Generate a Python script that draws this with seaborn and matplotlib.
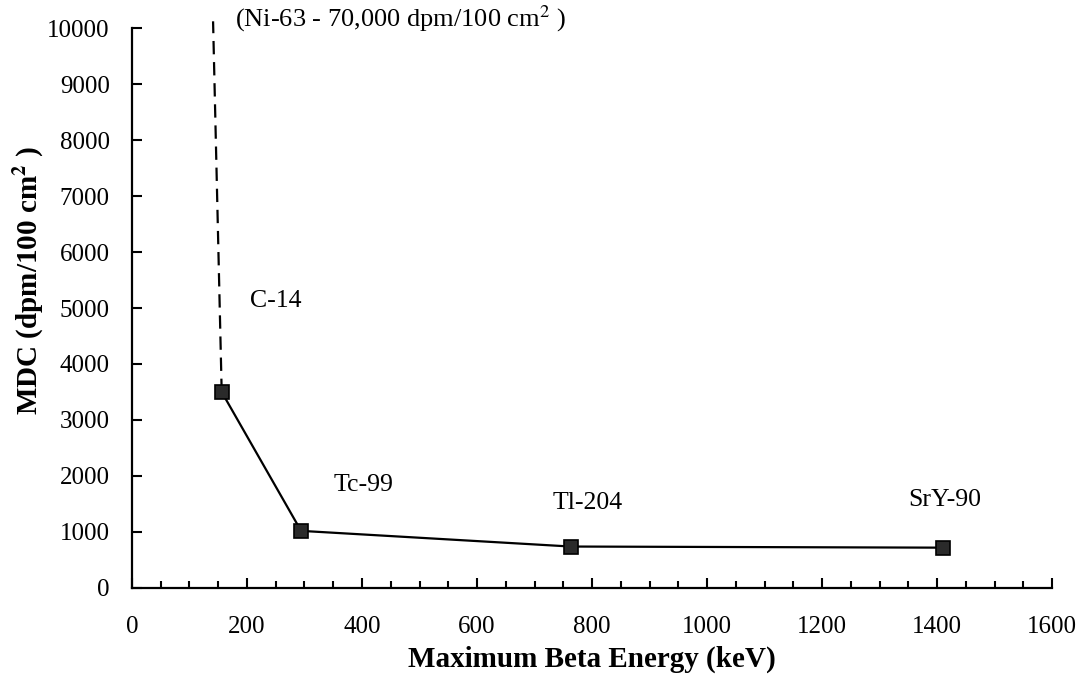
import numpy as np
import pandas as pd
import seaborn as sns
import matplotlib.pyplot as plt

# Dados
nuclideos = ['C-14', 'Tc-99', 'Tl-204', 'SrY-90']
energia_max = [156, 294, 763, 1411]      # keV
mdc = [3500, 1020, 740, 720]             # dpm/100 cm2

# Trecho tracejado até o Ni-63 (fora da escala)
ni63_energia = [156, 141]
ni63_mdc = [3500, 10120]

dados = pd.DataFrame({'Energia': energia_max, 'MDC': mdc, 'Nuclideo': nuclideos})

sns.set_style('ticks')
plt.rcParams['font.family'] = ['Liberation Serif', 'DejaVu Serif']
plt.rcParams['mathtext.fontset'] = 'stix'
plt.rcParams['text.color'] = 'black'
plt.rcParams['axes.labelcolor'] = 'black'
plt.rcParams['xtick.color'] = 'black'
plt.rcParams['ytick.color'] = 'black'
plt.rcParams['axes.edgecolor'] = 'black'

fig = plt.figure(figsize=(10.81, 6.77), dpi=100)
ax = fig.add_axes([0.1221, 0.1315, 0.8511, 0.8271])

sns.lineplot(data=dados, x='Energia', y='MDC', ax=ax, color='black', linewidth=1.6,
             marker='s', markersize=9.5, markerfacecolor='#2a2a2a',
             markeredgecolor='black', markeredgewidth=1.2, zorder=3)
ax.plot(ni63_energia, ni63_mdc, color='black', linewidth=1.6,
        linestyle=(0, (6, 3.5)), clip_on=False, zorder=2)

# Rótulos dos nuclídeos (deslocamento em relação ao ponto)
offsets = {'C-14': (50, 1630), 'Tc-99': (56, 816), 'Tl-204': (-31, 775), 'SrY-90': (-61, 850)}
for nome, x, y in zip(nuclideos, energia_max, mdc):
    dx, dy = offsets[nome]
    ax.text(x + dx, y + dy, nome, fontsize=18.5, ha='left', va='center')

ax.text(180, 10170, '(Ni-63 - 70,000 dpm/100 cm$^2$ )', fontsize=19, ha='left', va='center')

ax.set_xlim(0, 1600)
ax.set_ylim(0, 10000)
ax.set_xticks(np.arange(0, 1601, 200))
ax.set_xticks(np.arange(0, 1601, 50), minor=True)
ax.set_yticks(np.arange(0, 10001, 1000))

ax.tick_params(axis='x', which='major', direction='in', length=7, width=1.5, pad=20, labelsize=18)
ax.tick_params(axis='x', which='minor', direction='in', length=5, width=1.5)
ax.tick_params(axis='y', which='major', direction='in', length=7, width=1.5, pad=16, labelsize=18)

for lado in ['top', 'right']:
    ax.spines[lado].set_visible(False)
for lado in ['left', 'bottom']:
    ax.spines[lado].set_linewidth(1.6)

ax.set_xlabel('Maximum Beta Energy (keV)', fontsize=21, fontweight='bold', labelpad=6)
ax.set_ylabel('MDC (dpm/100 cm$^\\mathbf{2}$ )', fontsize=21, fontweight='bold')
ax.yaxis.set_label_coords(-0.094, 0.55)

fig.savefig('out.png', dpi=100)
